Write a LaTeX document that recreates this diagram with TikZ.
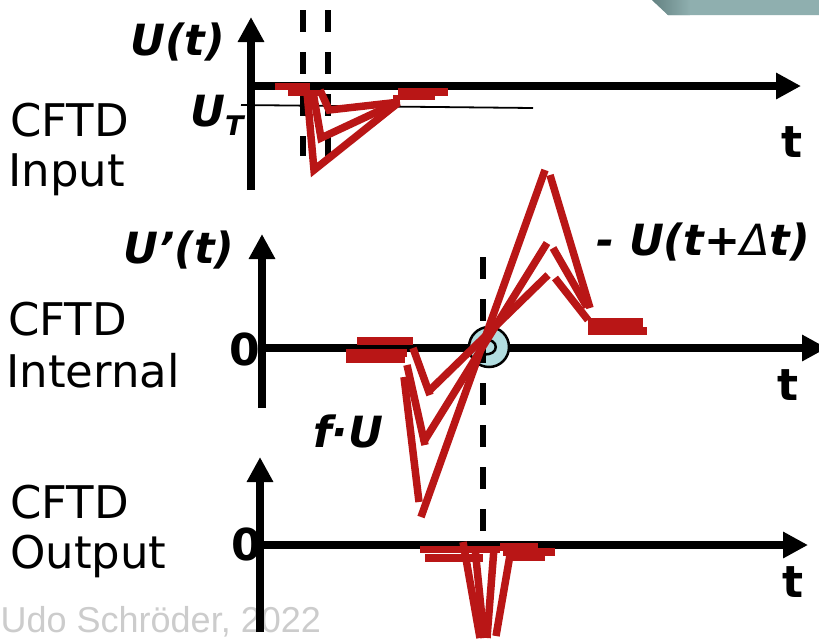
\documentclass[tikz,border=0pt]{standalone}
\usepackage{fontspec}
\setmainfont{DejaVu Sans}
\newfontfamily\libfont{Liberation Sans}
\usetikzlibrary{arrows.meta}
\definecolor{sigred}{RGB}{185,22,22}
\definecolor{circfill}{RGB}{178,221,224}
\definecolor{bandcol}{RGB}{143,175,175}
\definecolor{banddark}{RGB}{100,130,130}
\definecolor{wmark}{RGB}{204,204,204}
\tikzset{
  axisline/.style={line width=7.5pt, -{Triangle[length=25pt,width=25pt]}},
  sig/.style={draw=sigred, line width=7.5pt, line cap=butt},
  dashline/.style={line width=5.5pt, dash pattern=on 22pt off 20pt},
  txt/.style={inner sep=0pt, anchor=base west},
  lbl/.style={txt, font=\fontsize{43}{43}\selectfont\bfseries\itshape},
  bigt/.style={txt, font=\fontsize{44}{44}\selectfont\bfseries},
  side/.style={txt, font=\fontsize{45}{45}\selectfont}
}
\begin{document}
\begin{tikzpicture}[x=1pt,y=-1pt]
\useasboundingbox (0,0) rectangle (819,641);
\clip (0,0) rectangle (819,641);
\fill[white] (0,0) rectangle (819,641);
% top-right band
\fill[bandcol] (652,0) -- (668,15) -- (819,15) -- (819,0) -- cycle;
\shade[left color=banddark, right color=bandcol] (652,0) -- (668,15) -- (690,15) -- (690,0) -- cycle;
% watermark
\node[txt, text depth=0pt, font=\libfont\fontsize{36}{36}\selectfont, text=wmark] (wm) at (0.5,632) {Udo Schröder, 2022};

% ===== top panel =====
\draw[axisline] (251,190) -- (251,17);
\draw[axisline] (247,86) -- (801,86);
\draw[line width=1.8pt] (241,105) -- (533,108);
\draw[dashline] (303,10) -- (303,156);
\draw[dashline] (328,10) -- (328,156);
\draw[sig, line width=7.5pt] (275,86.5) -- (310,86.5);
\draw[sig, line width=6pt] (288,92.5) -- (323,92.5);
\draw[sig] (398,92) -- (448,92);
\draw[sig, line width=5.5pt] (393,97.5) -- (435,97.5);
\draw[sig] (307,92) -- (314,170) -- (398,103);
\draw[sig] (313,92) -- (321,138) -- (398,102);
\draw[sig] (320,90) -- (329,110) -- (400,102);
\node[lbl] (ut) at (130,55) {U(t)};
\node[lbl] (uth) at (190,126) {U\raisebox{-9pt}{\fontsize{27}{27}\selectfont T}};
\node[bigt] (t1) at (781,157) {t};
\node[side] (c1a) at (10,136) {CFTD};
\node[side] (c1b) at (8,186) {Input};

% ===== middle panel =====
\draw[axisline] (262,408) -- (262,234);
\draw[axisline] (258,348) -- (827,348);
\node[circle, draw, line width=2.5pt, fill=circfill, minimum size=40pt, inner sep=0pt] (zc) at (489,347) {};
\draw[dashline] (483,257) -- (483,532);
\draw[line width=2.5pt] (483,340) .. controls (500,337) and (500,357) .. (483,354);
\draw[sig, line width=8.5pt] (357,341) -- (413,341);
\draw[sig] (346,353) -- (407,353);
\draw[sig] (346,359.5) -- (405,359.5);
% V parts
\draw[sig] (413,348) -- (430,395);
\draw[sig] (407,365) -- (425,445);
\draw[sig] (404,377) -- (419,502);
% rising strokes
\draw[sig] (428,392) -- (548,275);
\draw[sig] (423,443) -- (547,243);
\draw[sig] (421,517) -- (545,170);
% falling strokes
\draw[sig] (550,175) -- (590,308);
\draw[sig] (553,248) -- (587,307);
\draw[sig] (555,278) -- (588,320);
\draw[sig, line width=10pt] (588,322.5) -- (643,322.5);
\draw[sig, line width=8pt] (588,331) -- (647,331);
\node[lbl] (uprime) at (123,263) {U’(t)};
\node[lbl] (udt) at (596,255) {- U(t+{\mdseries Δ}t)};
\node[lbl] (fu) at (313,447) {f·U};
\node[bigt] (zero2) at (229,365) {0};
\node[bigt] (t2) at (777,400) {t};
\node[side] (c2a) at (8,335) {CFTD};
\node[side] (c2b) at (6,387) {Internal};

% ===== bottom panel =====
\draw[axisline] (260,632) -- (260,457);
\draw[axisline] (256,545) -- (808,545);
\draw[sig] (420,549.5) -- (500,549.5);
\draw[sig] (425,558) -- (483,558);
\draw[sig] (500,547) -- (538,547);
\draw[sig] (503,552) -- (555,552);
\draw[sig] (507,557.5) -- (545,557.5);
\draw[sig] (463,542) -- (480,638);
\draw[sig] (475,548) -- (484,638);
\draw[sig] (494,548) -- (487,638);
\draw[sig] (510,555) -- (496,636);
\node[bigt] (zero3) at (231,560) {0};
\node[bigt] (t3) at (782,597) {t};
\node[side] (c3a) at (10,518) {CFTD};
\node[side] (c3b) at (10,568) {Output};
\end{tikzpicture}
\end{document}
